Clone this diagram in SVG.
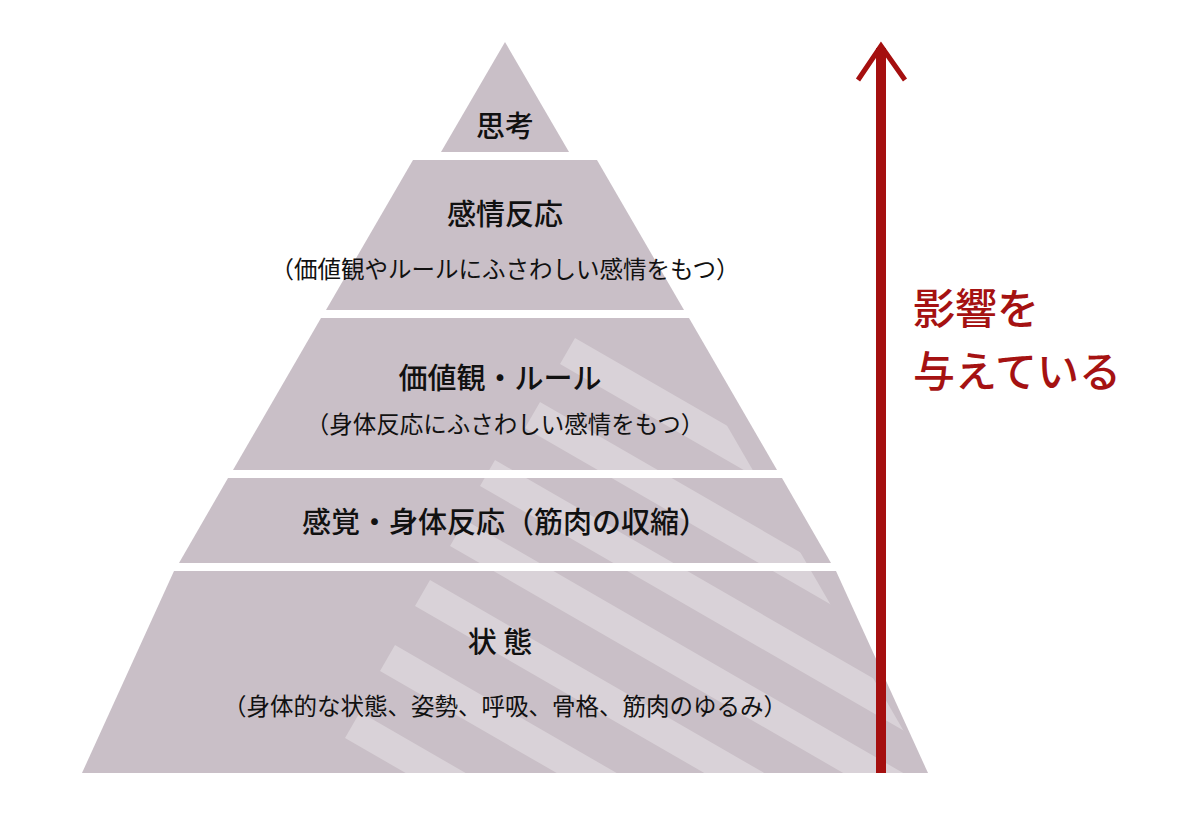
<svg xmlns="http://www.w3.org/2000/svg" width="1200" height="834" viewBox="0 0 1200 834">
<style>
.t{font-family:"Noto Sans CJK JP",sans-serif;fill:#111;text-anchor:middle}
.h{font-size:29px;font-weight:500}
.s{font-size:23.5px}
.lay{fill:#c9bfc7}
.st{fill:#fff;opacity:0.3}
.red{font-family:"Noto Sans CJK JP",sans-serif;fill:#a51212;font-size:42px;font-weight:500}
</style>
<defs>
<clipPath id="pc"><path d="M505,42 L928,773 L82,773 Z"/></clipPath>
</defs>
<rect width="1200" height="834" fill="#fff"/>
<g id="layers">
<path class="lay" d="M505,42 L569,152 L441,152 Z"/>
<path class="lay" d="M413,160 L597,160 L684,310 L326,310 Z"/>
<path class="lay" d="M321,318 L689,318 L777,470 L233,470 Z"/>
<path class="lay" d="M228,478 L782,478 L831,563 L179,563 Z"/>
<path class="lay" d="M174,571 L836,571 L928,773 L82,773 Z"/>
</g>
<g id="stripes" clip-path="url(#pc)">
<rect class="st" x="0" y="0" width="600" height="30" transform="translate(575,338) rotate(30)"/>
<rect class="st" x="0" y="0" width="600" height="30" transform="translate(540,402) rotate(30)"/>
<rect class="st" x="0" y="0" width="600" height="30" transform="translate(495,460) rotate(30)"/>
<rect class="st" x="0" y="0" width="600" height="30" transform="translate(465,520) rotate(30)"/>
<rect class="st" x="0" y="0" width="600" height="30" transform="translate(430,580) rotate(30)"/>
<rect class="st" x="0" y="0" width="600" height="30" transform="translate(395,645) rotate(30)"/>
<rect class="st" x="0" y="0" width="600" height="30" transform="translate(360,712) rotate(30)"/>
</g>
<g id="separators" fill="#fff">
<rect x="0" y="152" width="1200" height="8"/>
<rect x="0" y="310" width="1200" height="8"/>
<rect x="0" y="470" width="1200" height="8"/>
<rect x="0" y="563" width="1200" height="8"/>
</g>
<g id="labels">
<text class="t h" x="505" y="137">思考</text>
<text class="t h" x="505" y="225">感情反応</text>
<text class="t s" x="505" y="278">（価値観やルールにふさわしい感情をもつ）</text>
<text class="t h" x="500" y="389">価値観・ルール</text>
<text class="t s" x="505" y="433">（身体反応にふさわしい感情をもつ）</text>
<text class="t h" x="505" y="533">感覚・身体反応（筋肉の収縮）</text>
<text class="t h" x="500" y="653">状 態</text>
<text class="t s" x="505" y="715">（身体的な状態、姿勢、呼吸、骨格、筋肉のゆるみ）</text>
</g>
<g id="connectors">
<line x1="881" y1="48" x2="881" y2="773" stroke="#a50f0f" stroke-width="10"/>
<polyline points="858,80 881,46 905,80" fill="none" stroke="#a50f0f" stroke-width="5"/>
</g>
<g id="note">
<text class="red" x="913" y="324">影響を</text>
<text class="red" x="913" y="387">与えている</text>
</g>
</svg>
